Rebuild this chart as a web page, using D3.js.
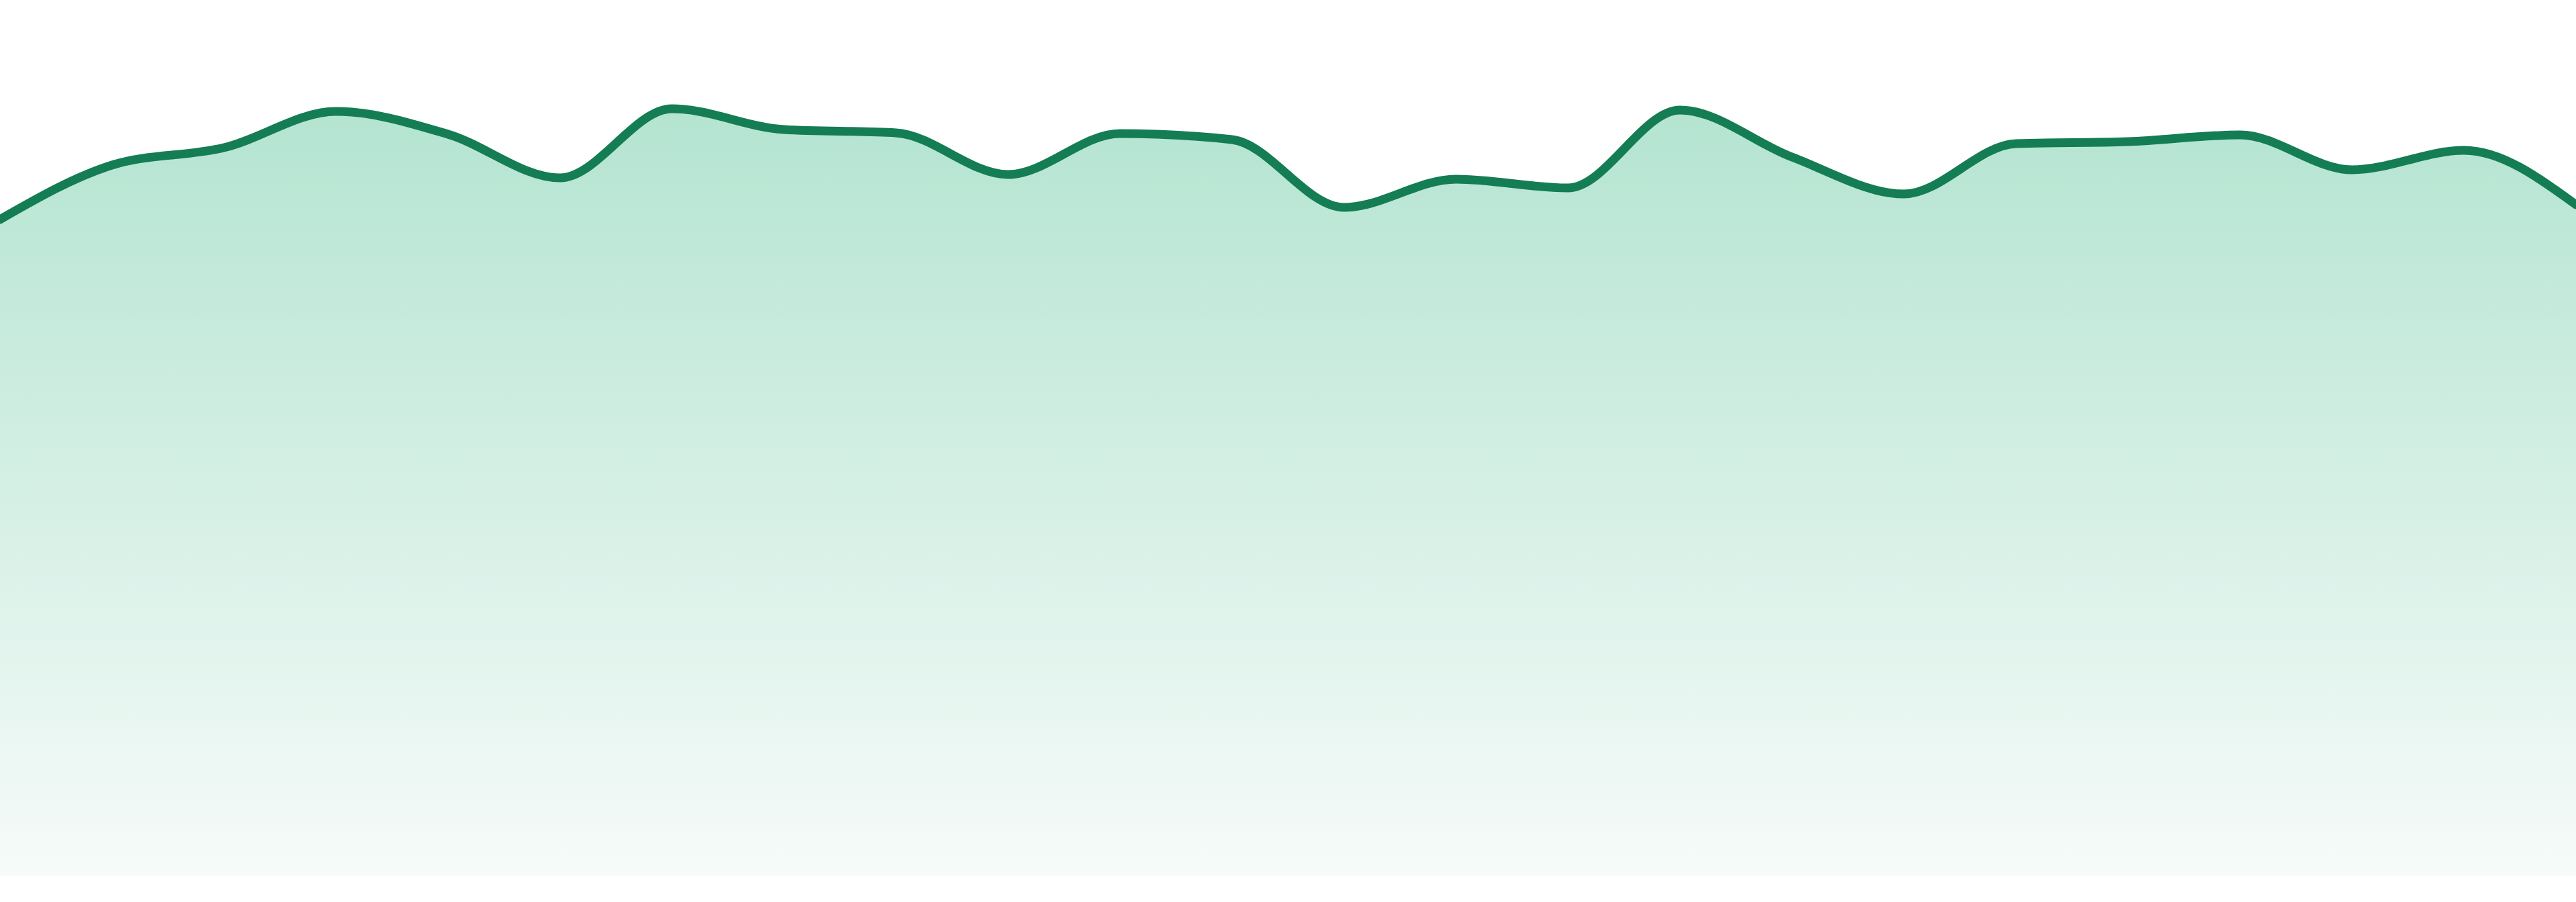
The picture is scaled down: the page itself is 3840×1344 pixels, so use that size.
<!DOCTYPE html>
<html>
<head>
<meta charset="utf-8">
<script src="https://cdn.jsdelivr.net/npm/d3@7"></script>
<style>
  html, body { margin: 0; padding: 0; background: #ffffff; overflow: hidden; }
  svg { display: block; }
</style>
</head>
<body>
<svg id="chart"></svg>
<script>
// Data (24 evenly spaced observations)
const categories = d3.range(24).map(i => "P" + (i + 1));
const values = [97.8, 105.9, 108.5, 113.9, 110.5, 104.0, 114.3, 111.2, 110.7, 104.5,
                110.6, 109.7, 99.6, 103.8, 102.5, 114.1, 107.1, 101.6, 109.1, 109.4,
                110.4, 105.2, 108.1, 100.0];
const yDomain = [0, 130.5];

const W = 3840, H = 1344;
const plotBottom = 1305;

const svg = d3.select("#chart").attr("width", W).attr("height", H);

const x = d3.scalePoint().domain(categories).range([0, W]);
const y = d3.scaleLinear().domain(yDomain).range([plotBottom, 0]);

const defs = svg.append("defs");
const grad = defs.append("linearGradient")
  .attr("id", "areaGrad")
  .attr("gradientUnits", "userSpaceOnUse")
  .attr("x1", 0).attr("x2", 0)
  .attr("y1", y(d3.max(values))).attr("y2", plotBottom);
grad.append("stop").attr("offset", "0%").attr("stop-color", "#b4e4d1");
grad.append("stop").attr("offset", "100%").attr("stop-color", "#f6fbf9");

const data = categories.map((c, i) => ({ c, v: values[i] }));

const area = d3.area()
  .x(d => x(d.c))
  .y0(y(0))
  .y1(d => y(d.v))
  .curve(d3.curveMonotoneX);

const line = d3.line()
  .x(d => x(d.c))
  .y(d => y(d.v))
  .curve(d3.curveMonotoneX);

svg.append("path")
  .datum(data)
  .attr("d", area)
  .attr("fill", "url(#areaGrad)");

svg.append("path")
  .datum(data)
  .attr("d", line)
  .attr("fill", "none")
  .attr("stroke", "#147d54")
  .attr("stroke-width", 13)
  .attr("stroke-linejoin", "round")
  .attr("stroke-linecap", "round");
</script>
</body>
</html>
